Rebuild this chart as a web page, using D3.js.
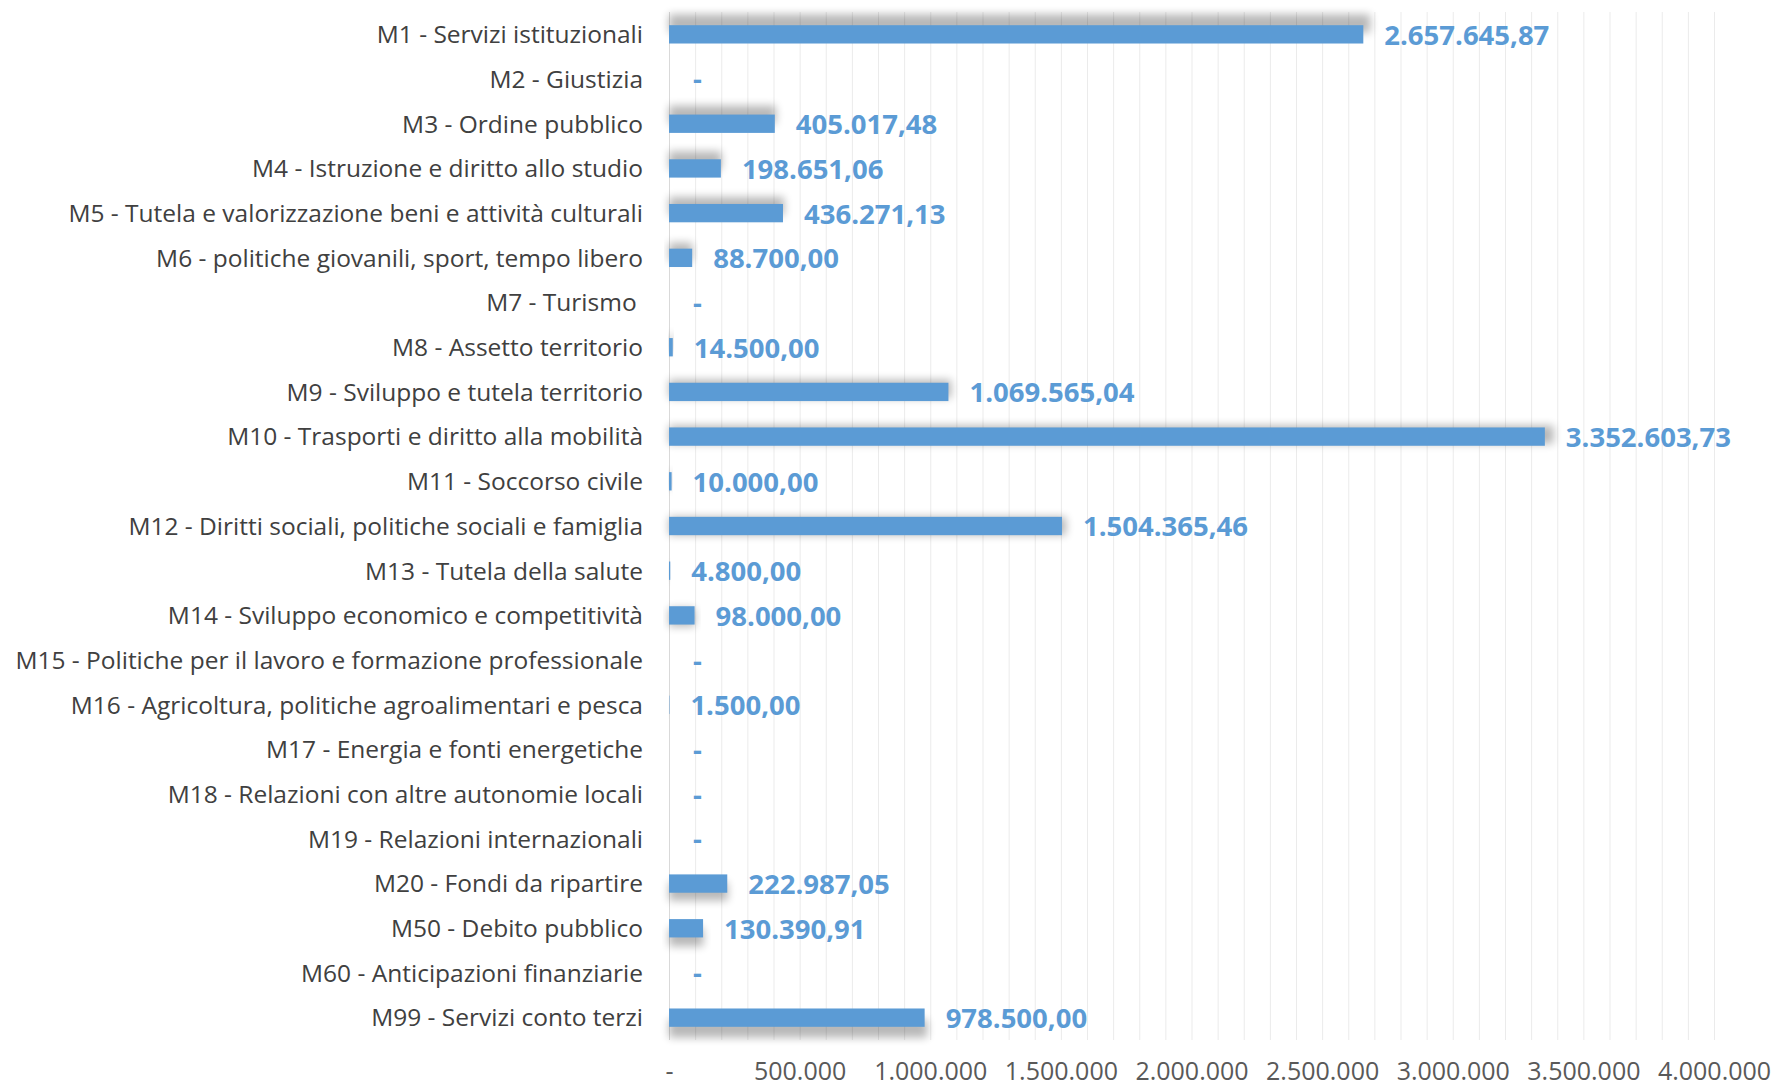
<!DOCTYPE html>
<html>
<head>
<meta charset="utf-8">
<script src="https://cdn.jsdelivr.net/npm/d3@7"></script>
<style>
  body { margin: 0; background: #fff; }
  text { white-space: pre; }
</style>
</head>
<body>
<svg id="chart" width="1778" height="1087"></svg>
<script>
// categories (missioni) and amounts
const missioni = [
    "M1 - Servizi istituzionali",
    "M2 - Giustizia",
    "M3 - Ordine pubblico",
    "M4 - Istruzione e diritto allo studio",
    "M5 - Tutela e valorizzazione beni e attività culturali",
    "M6 - politiche giovanili, sport, tempo libero",
    "M7 - Turismo ",
    "M8 - Assetto territorio",
    "M9 - Sviluppo e tutela territorio",
    "M10 - Trasporti e diritto alla mobilità",
    "M11 - Soccorso civile",
    "M12 - Diritti sociali, politiche sociali e famiglia",
    "M13 - Tutela della salute",
    "M14 - Sviluppo economico e competitività",
    "M15 - Politiche per il lavoro e formazione professionale",
    "M16 - Agricoltura, politiche agroalimentari e pesca",
    "M17 - Energia e fonti energetiche",
    "M18 - Relazioni con altre autonomie locali",
    "M19 - Relazioni internazionali",
    "M20 - Fondi da ripartire",
    "M50 - Debito pubblico",
    "M60 - Anticipazioni finanziarie",
    "M99 - Servizi conto terzi"
];
const importi = [
    2657645.87, 0, 405017.48, 198651.06, 436271.13, 88700.00, 0, 14500.00,
    1069565.04, 3352603.73, 10000.00, 1504365.46, 4800.00, 98000.00, 0, 1500.00,
    0, 0, 0, 222987.05, 130390.91, 0, 978500.00
];
const tickValues = [0, 500000, 1000000, 1500000, 2000000, 2500000, 3000000, 3500000, 4000000];
const maxValue = 4000000;

const data = missioni.map((m, i) => ({ label: m, value: importi[i] }));

const it = d3.formatLocale({ decimal: ",", thousands: ".", grouping: [3], currency: ["€", ""] });
const fmtValue = v => v === 0 ? "-" : it.format(",.2f")(v);
const fmtTick = v => v === 0 ? "-" : it.format(",.0f")(v);

const svg = d3.select("#chart");
const blue = "#5B9BD5";

const x = d3.scaleLinear().domain([0, maxValue]).range([669, 1714]);
const y = d3.scaleBand()
    .domain(missioni)
    .range([12, 1040])
    .paddingInner(0.59)
    .paddingOuter(0.295);

// shadow filter
const defs = svg.append("defs");
defs.append("filter")
    .attr("id", "blur")
    .attr("x", "-20%").attr("y", "-150%")
    .attr("width", "140%").attr("height", "400%")
    .append("feGaussianBlur")
    .attr("stdDeviation", 4.5);

// minor gridlines every 100.000
const gridValues = d3.range(0, maxValue + 1, 100000);
svg.append("g")
    .selectAll("line")
    .data(gridValues)
    .enter().append("line")
    .attr("x1", d => x(d) + 0.5)
    .attr("x2", d => x(d) + 0.5)
    .attr("y1", 12)
    .attr("y2", 1040)
    .attr("stroke", d => d === 0 ? "#d9d9d9" : "#ebebeb")
    .attr("stroke-width", 1);

const midY = (12 + 1040) / 2;

// shadows (perspective-like: above at the top, below at the bottom)
svg.append("g")
    .selectAll("rect")
    .data(data.filter(d => d.value > 0))
    .enter().append("rect")
    .attr("x", x(0))
    .attr("y", d => y(d.label) + (y(d.label) + y.bandwidth() / 2 - midY) * 0.022)
    .attr("width", d => (x(d.value) - x(0)) * 1.01)
    .attr("height", y.bandwidth())
    .attr("fill", "#000")
    .attr("opacity", 0.28)
    .attr("filter", "url(#blur)");

// bars
svg.append("g")
    .selectAll("rect")
    .data(data)
    .enter().append("rect")
    .attr("class", "bar")
    .attr("x", x(0))
    .attr("y", d => y(d.label))
    .attr("width", d => x(d.value) - x(0))
    .attr("height", y.bandwidth())
    .attr("fill", blue);

// data labels
svg.append("g")
    .selectAll("text")
    .data(data)
    .enter().append("text")
    .attr("x", d => d.value === 0 ? x(0) + 24 : x(d.value) + 21)
    .attr("y", d => y(d.label) + y.bandwidth() / 2)
    .attr("dy", "0.38em")
    .attr("font-family", "'Open Sans', sans-serif")
    .attr("font-weight", "bold")
    .attr("font-size", "27.5px")
    .attr("fill", blue)
    .text(d => fmtValue(d.value));

// category labels
svg.append("g")
    .selectAll("text")
    .data(data)
    .enter().append("text")
    .attr("x", 643)
    .attr("y", d => y(d.label) + y.bandwidth() / 2)
    .attr("dy", "0.36em")
    .attr("text-anchor", "end")
    .attr("font-family", "'Open Sans', sans-serif")
    .attr("font-size", "24.5px")
    .attr("fill", "#404040")
    .text(d => d.label);

// x axis tick labels
const xAxis = d3.axisBottom(x)
    .tickValues(tickValues)
    .tickFormat(fmtTick)
    .tickSize(0)
    .tickPadding(0);
const axisG = svg.append("g")
    .attr("transform", "translate(0, 1080)")
    .call(xAxis);
axisG.select(".domain").remove();
axisG.selectAll("text")
    .attr("dy", null)
    .attr("font-family", "'Open Sans', sans-serif")
    .attr("font-size", "25px")
    .attr("fill", "#595959");
</script>
</body>
</html>
